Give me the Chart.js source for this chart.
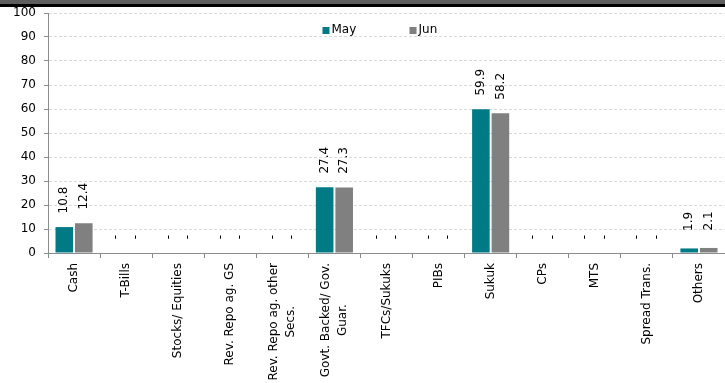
<!DOCTYPE html>
<html lang="en">
<head>
    <meta charset="UTF-8">
    <script src="https://cdn.jsdelivr.net/npm/chart.js"></script>
    <title>Portfolio mix</title>
    <style>
        html, body { margin: 0; padding: 0; background: #fff; overflow: hidden; }
        #wrap { position: relative; width: 725px; height: 383px; }
        #topbar { position: absolute; left: 0; top: 0; width: 725px; height: 4px;
                  background: #5e5e5e; border-bottom: 3px solid #000; z-index: 2; }
    </style>
</head>
<body>
<div id="wrap">
    <div id="topbar"></div>
    <canvas id="myChart" width="725" height="383"></canvas>
</div>
<script>
    // categories and series
    let categories = [
        'Cash', 'T-Bills', 'Stocks/ Equities', 'Rev. Repo ag. GS',
        ['Rev. Repo ag. other', 'Secs.'], ['Govt. Backed/ Gov.', 'Guar.'],
        'TFCs/Sukuks', 'PIBs', 'Sukuk', 'CPs', 'MTS', 'Spread Trans.', 'Others'
    ];
    let seriesNames = ['May', 'Jun'];
    let mayValues = [10.8, 0, 0, 0, 0, 27.4, 0, 0, 59.9, 0, 0, 0, 1.9];
    let junValues = [12.4, 0, 0, 0, 0, 27.3, 0, 0, 58.2, 0, 0, 0, 2.1];
    let yTicks = [0, 10, 20, 30, 40, 50, 60, 70, 80, 90, 100];

    let colors = ['#007a84', '#808080'];
    let font = 'DejaVu Sans';

    // value labels, rotated; zero shows a dash
    let labelPlugin = {
        id: 'valueLabels',
        afterDatasetsDraw(chart) {
            let ctx = chart.ctx;
            ctx.save();
            ctx.font = '12px "' + font + '"';
            ctx.fillStyle = '#000';
            ctx.textAlign = 'center';
            ctx.textBaseline = 'middle';
            chart.data.datasets.forEach(function(ds, i) {
                let meta = chart.getDatasetMeta(i);
                meta.data.forEach(function(bar, j) {
                    let v = ds.data[j];
                    let txt = v === 0 ? '-' : v.toFixed(1);
                    let y = v === 0 ? bar.y - 16 : bar.y - 27;
                    ctx.save();
                    ctx.translate(bar.x, y);
                    ctx.rotate(-Math.PI / 2);
                    ctx.fillText(txt, 0, 0);
                    ctx.restore();
                });
            });
            ctx.restore();
        }
    };

    // category labels: rotated, lines centred on each other
    let catPlugin = {
        id: 'catLabels',
        afterDraw(chart) {
            let ctx = chart.ctx;
            let xs = chart.scales.x;
            ctx.save();
            ctx.font = '12px "' + font + '"';
            ctx.fillStyle = '#000';
            ctx.textAlign = 'center';
            ctx.textBaseline = 'middle';
            let top = chart.chartArea.bottom + 10;
            categories.forEach(function(c, i) {
                let lines = Array.isArray(c) ? c : [c];
                let w = Math.max.apply(null, lines.map(l => ctx.measureText(l).width));
                let x = xs.getPixelForTick(i);
                ctx.save();
                ctx.translate(x, top + w / 2);
                ctx.rotate(-Math.PI / 2);
                lines.forEach(function(l, k) {
                    ctx.fillText(l, 0, (k - (lines.length - 1) / 2) * 17);
                });
                ctx.restore();
            });
            ctx.restore();
        }
    };

    // legend drawn inside the plot area
    let legendPlugin = {
        id: 'innerLegend',
        afterDraw(chart) {
            let ctx = chart.ctx;
            let area = chart.chartArea;
            ctx.save();
            ctx.font = '12px "' + font + '"';
            ctx.textBaseline = 'middle';
            let startX = (area.left + area.right) / 2 - 64;
            let y = area.top + 17;
            chart.data.datasets.forEach(function(ds, i) {
                let x = startX + i * 87;
                ctx.fillStyle = ds.backgroundColor;
                ctx.fillRect(x, y - 3, 7, 7);
                ctx.fillStyle = '#000';
                ctx.fillText(ds.label, x + 9, y);
            });
            ctx.restore();
        }
    };

    let ctx = document.getElementById('myChart');
    let configs = {
        type: 'bar',
        data: {
            labels: categories,
            datasets: [
                { label: seriesNames[0], data: mayValues, backgroundColor: colors[0] },
                { label: seriesNames[1], data: junValues, backgroundColor: colors[1] }
            ]
        },
        options: {
            responsive: false,
            animation: false,
            events: [],
            layout: { padding: { top: 13, right: 0, left: 0, bottom: 0 } },
            datasets: { bar: { categoryPercentage: 0.75, barPercentage: 0.9 } },
            plugins: { legend: { display: false }, tooltip: { enabled: false } },
            scales: {
                x: {
                    afterFit(scale) { scale.height = 130; },
                    grid: {
                        drawOnChartArea: false, drawTicks: true, tickLength: 5,
                        tickColor: '#8c8c8c', offset: true
                    },
                    border: { color: '#8c8c8c', width: 1 },
                    ticks: {
                        autoSkip: false, maxRotation: 90, minRotation: 90, padding: 4,
                        color: 'rgba(0,0,0,0)', font: { family: font, size: 12 }
                    }
                },
                y: {
                    min: 0, max: 100,
                    afterFit(scale) {
                        scale.width = 48;
                        scale.paddingTop = 0;
                        scale.paddingBottom = 0;
                    },
                    afterBuildTicks(scale) { scale.ticks = yTicks.map(v => ({ value: v })); },
                    grid: {
                        color: '#d9d9d9', tickLength: 4,
                        tickColor: '#8c8c8c', tickBorderDash: []
                    },
                    border: { color: '#8c8c8c', width: 1, dash: [3, 2] },
                    ticks: {
                        padding: 8, color: '#000', font: { family: font, size: 12 }
                    }
                }
            }
        },
        plugins: [labelPlugin, catPlugin, legendPlugin]
    };
    let myChart = new Chart(ctx, configs);
</script>
</body>
</html>
